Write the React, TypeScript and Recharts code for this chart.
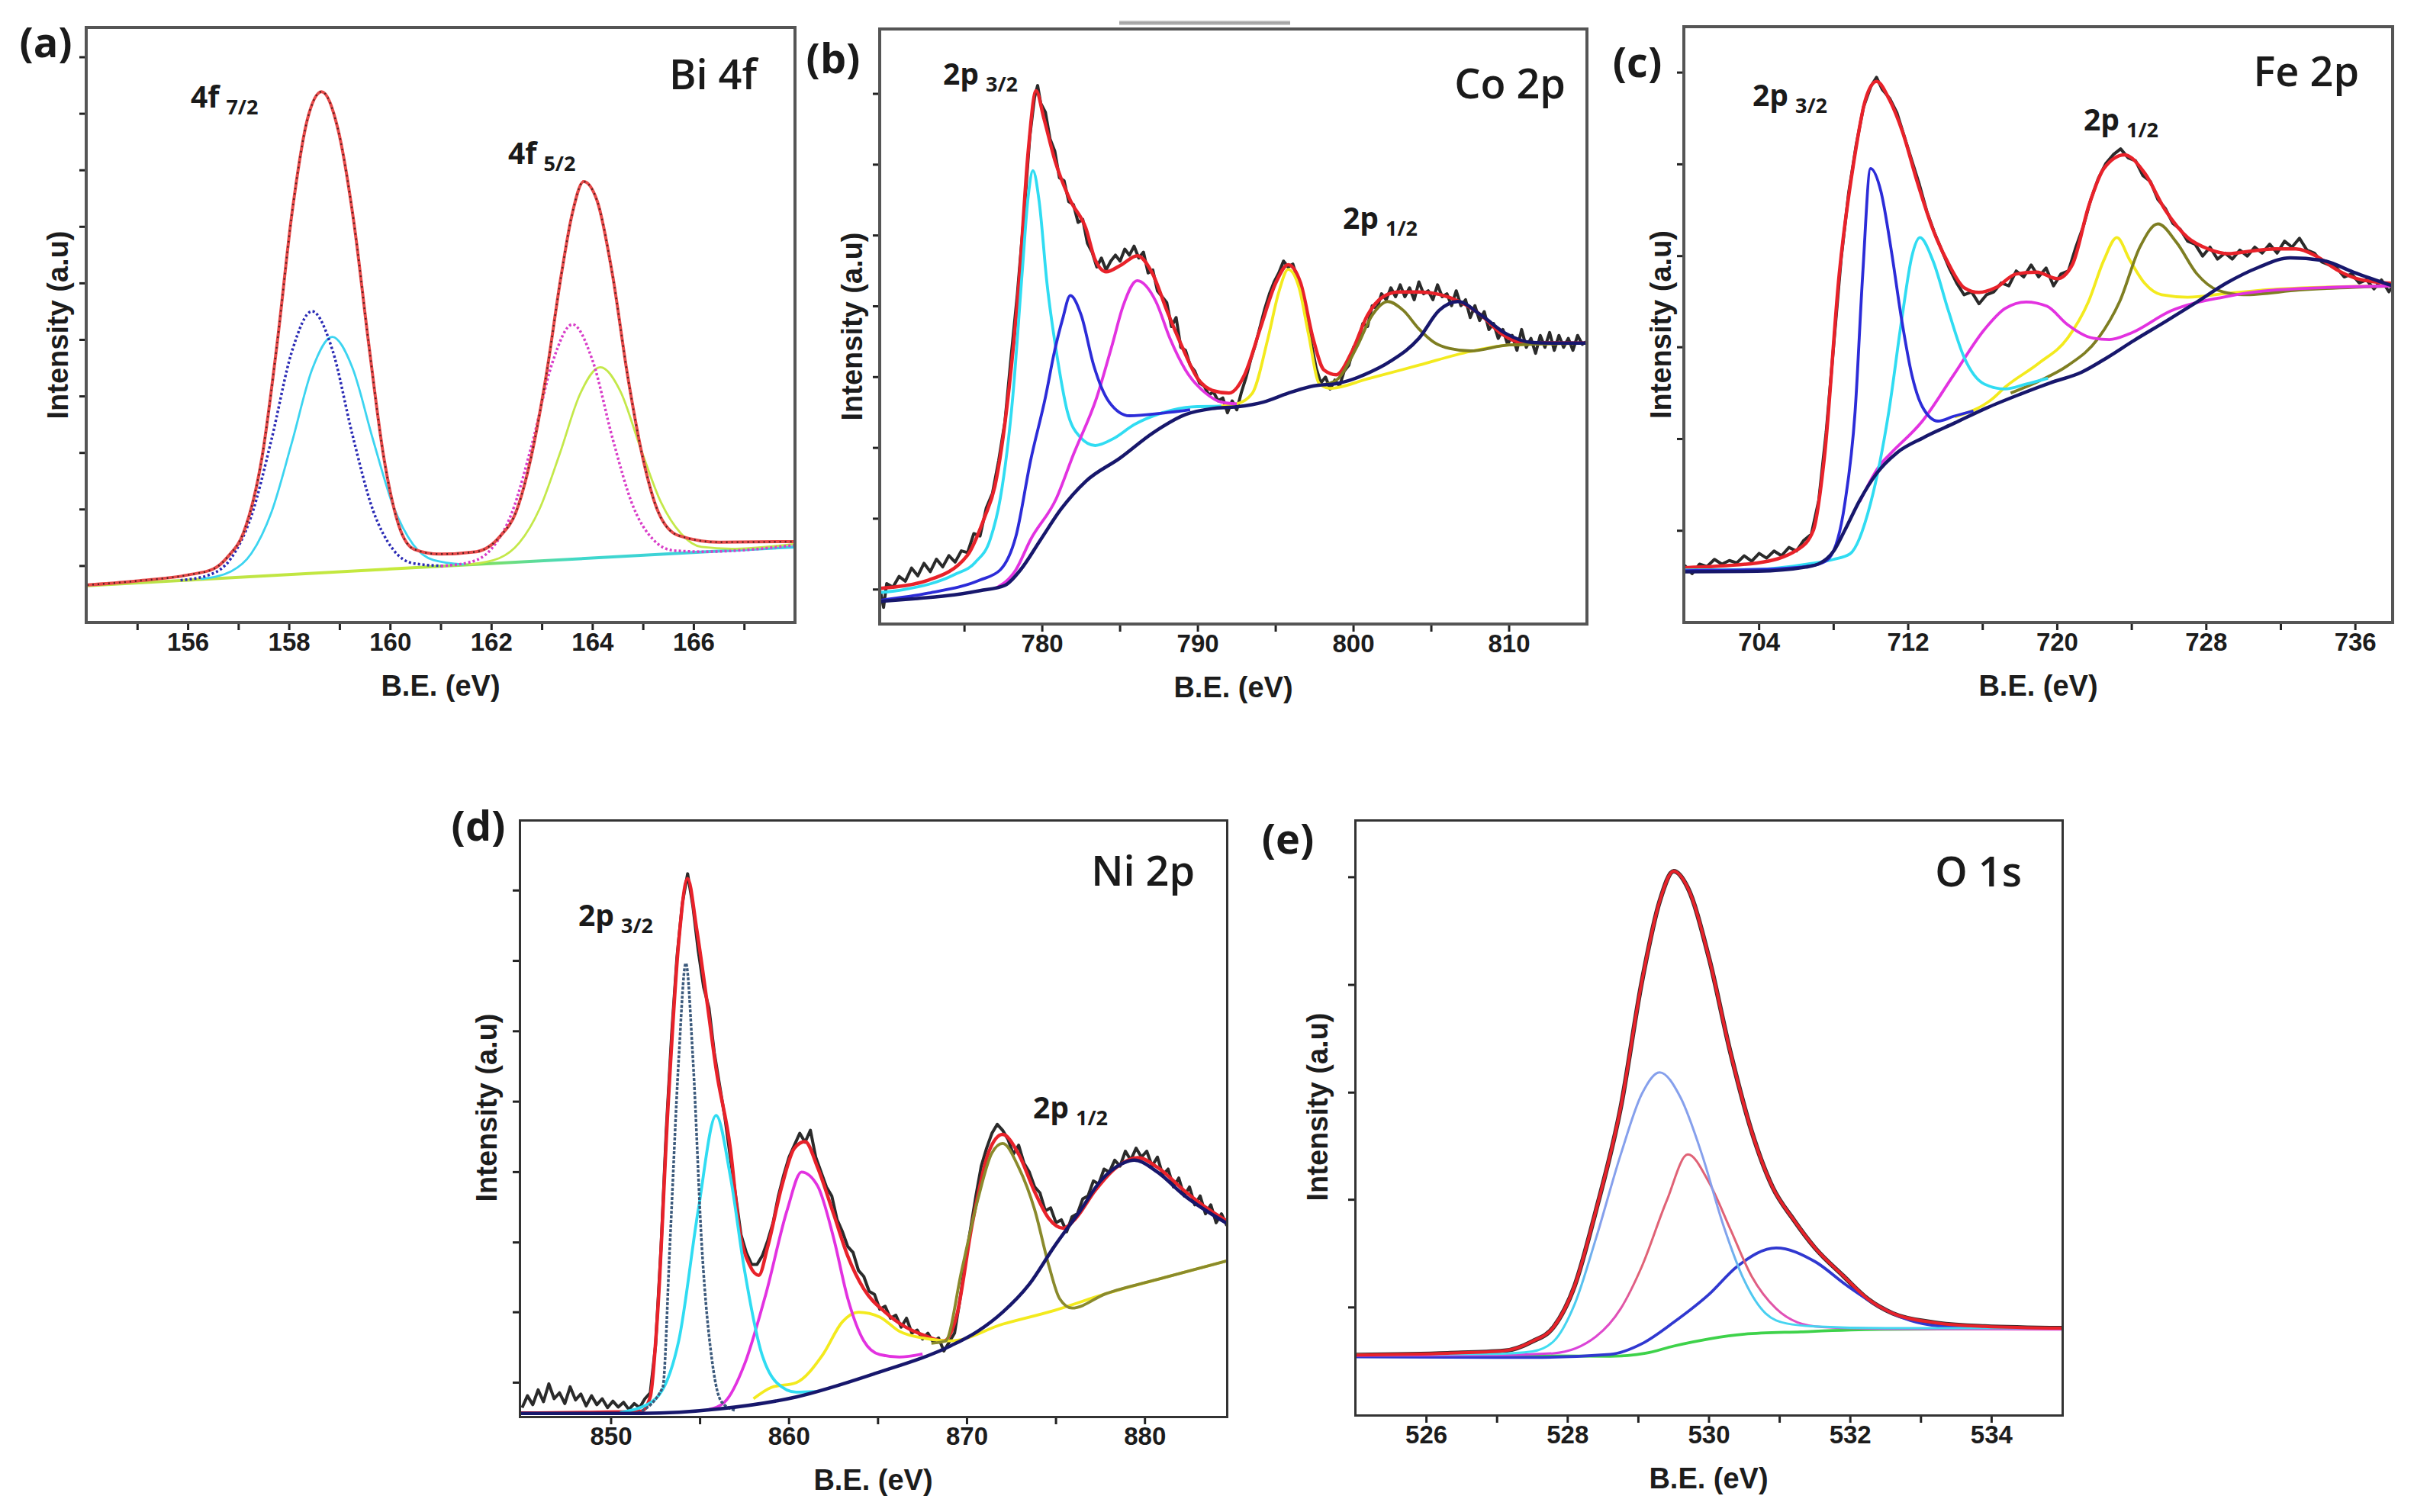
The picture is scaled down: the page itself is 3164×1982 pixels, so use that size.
import React from 'react';
import { LineChart, Line, XAxis, YAxis } from 'recharts';

type Pt = [number, number];

const FONT_AX = '"Liberation Sans", Arial, Helvetica, sans-serif';
const FONT_TXT = '"Open Sans", "Noto Sans", sans-serif';

/* Intensities are given as % of the plot height (0 = bottom edge, 100 = top edge). */

/* ---------- (a) Bi 4f ---------- */
const biTicks = [155, 156, 157, 158, 159, 160, 161, 162, 163, 164, 165, 166, 167];
const biTickLabels = [156, 158, 160, 162, 164, 166];
const biYTicks = [9.5, 19, 28.5, 38, 47.5, 57, 66.5, 76, 85.5, 95];
const biBaseline: Pt[] = [[154, 6.2], [168, 12.7]];
const biBlue: Pt[] = [[155.85, 7.1], [156.45, 8.1], [156.85, 10.8], [157.25, 17.9], [157.65, 30.8], [158.05, 45.5], [158.45, 52.3], [158.85, 45.9], [159.25, 31.5], [159.65, 19.0], [160.05, 12.3], [160.45, 9.95], [161.05, 9.5]];
const biCyan: Pt[] = [[156.25, 7.3], [156.85, 8.6], [157.25, 11.6], [157.65, 18.6], [158.05, 30.2], [158.45, 42.5], [158.85, 48.0], [159.25, 42.8], [159.65, 30.9], [160.05, 19.7], [160.45, 13.1], [160.85, 10.5], [161.45, 9.75]];
const biMagenta: Pt[] = [[161.0, 9.5], [161.6, 10.2], [162.0, 12.4], [162.4, 18.4], [162.8, 30.0], [163.2, 43.6], [163.6, 50.1], [164.0, 43.95], [164.4, 30.7], [164.8, 19.5], [165.2, 13.9], [165.6, 12.1], [166.2, 11.9], [168, 13.0]];
const biLime: Pt[] = [[161.55, 9.76], [162.15, 10.8], [162.55, 13.4], [162.95, 19.1], [163.35, 28.4], [163.75, 38.4], [164.15, 42.9], [164.55, 38.8], [164.95, 29.2], [165.35, 20.2], [165.75, 14.9], [166.15, 12.7], [166.75, 12.4], [168, 13.2]];
const biEnvelope: Pt[] = [[154, 6.3], [155, 7.0], [156, 8.0], [156.5, 9.0], [156.8, 11.2], [157.1, 15.2], [157.46, 27.7], [157.76, 46.9], [158.06, 69.2], [158.36, 84.6], [158.64, 89.2], [158.96, 83.0], [159.27, 67.7], [159.57, 46.9], [159.87, 27.7], [160.17, 16.2], [160.47, 12.3], [160.97, 11.5], [161.7, 11.9], [162.18, 14.6], [162.48, 18.5], [162.78, 27.7], [163.08, 41.5], [163.38, 58.5], [163.59, 68.5], [163.82, 74.1], [164.09, 70.8], [164.39, 58.5], [164.69, 41.5], [164.99, 27.7], [165.3, 18.5], [165.7, 14.6], [166.5, 13.5], [168, 13.6]];

/* ---------- (b) Co 2p ---------- */
const coTicks = [775, 780, 785, 790, 795, 800, 805, 810];
const coTickLabels = [780, 790, 800, 810];
const coYTicks = [5.8, 17.7, 29.6, 41.5, 53.4, 65.3, 77.2, 89.1];
const coShirley: Pt[] = [[769.6, 3.8], [772, 4.3], [774.35, 4.9], [776, 5.6], [777.6, 6.5], [778.6, 9.1], [779.9, 14.2], [781.2, 19.3], [782.8, 24.0], [785.0, 27.9], [787.1, 32.1], [789.2, 35.2], [790.9, 36.2], [792.5, 36.5], [794.2, 37.3], [795.8, 38.8], [797.4, 40.0], [799.1, 40.5], [800.7, 41.9], [802.4, 44.2], [804.2, 48.0], [805.5, 52.7], [806.7, 54.2], [808.2, 51.9], [809.8, 48.8], [811.5, 47.3], [813, 47.2], [815, 47.2]];
const coCyan: Pt[] = [[769.6, 5.3], [771.1, 5.8], [774.35, 8.3], [775.7, 10.4], [776.65, 14.2], [777.3, 21.1], [778.1, 38.1], [778.7, 58.8], [779.1, 72], [779.4, 76.2], [779.8, 71], [780.3, 57.3], [781.0, 44.2], [781.6, 35.8], [782.4, 31.5], [783.4, 30.0], [784.6, 31.2], [785.9, 33.5], [787.6, 35.4], [789.6, 36.5], [791.5, 36.6]];
const coBlue: Pt[] = [[769.6, 4.0], [772.7, 5.2], [776.0, 7.4], [777.3, 9.1], [778.3, 14.7], [779.25, 27.5], [780.2, 38.1], [780.8, 46], [781.3, 51.2], [781.8, 55.2], [782.5, 51.9], [783.3, 43.5], [784.3, 37.3], [785.6, 35.0], [787.6, 35.4], [789.5, 36.0]];
const coMagenta: Pt[] = [[777.0, 6.0], [778.3, 9.1], [779.25, 14.2], [780.9, 21.1], [782.0, 28.5], [783.5, 38.1], [784.5, 47], [785.2, 53.5], [786.1, 57.7], [787.3, 54.2], [788.2, 48], [789.2, 42.7], [790.5, 38.8], [791.5, 37.3], [792.5, 37.0]];
const coYellow: Pt[] = [[791.0, 36.5], [792.5, 37.0], [793.5, 38.8], [794.5, 48], [795.2, 55.8], [795.8, 59.6], [796.5, 56.5], [797.1, 48.8], [797.8, 40.4], [798.5, 39.6], [800.9, 41.2], [804.2, 43.5], [807.5, 45.8], [810.1, 46.9], [815, 47.2]];
const coOlive: Pt[] = [[798.0, 40.2], [798.9, 41.0], [800.2, 46.5], [801.2, 51.9], [802.2, 54.2], [803.2, 52.7], [804.2, 49.6], [805.2, 47.3], [806.2, 46.3], [807.5, 45.9], [810, 46.9], [815, 47.2]];
const coEnvelope: Pt[] = [[769.6, 6.0], [772.7, 7.4], [775.2, 11.6], [776.3, 18.0], [776.95, 23.1], [777.8, 38.1], [778.5, 57.3], [779.1, 79.6], [779.6, 89.6], [780.1, 85], [780.8, 78], [781.8, 71.2], [782.8, 66.5], [783.4, 61.2], [784.1, 59.2], [785.1, 60.4], [786.1, 61.9], [787.1, 58.8], [788.0, 52.7], [789.0, 46.5], [790.0, 41.2], [791.0, 39.2], [792.0, 38.8], [793.0, 41.9], [794.0, 49.6], [795.0, 57.3], [795.8, 60.4], [796.6, 57.3], [797.4, 48.0], [798.1, 42.7], [798.9, 41.9], [799.9, 45.8], [800.9, 51.9], [801.9, 55.0], [802.9, 55.8], [804.2, 55.8], [805.5, 55.4], [806.8, 54.2], [808.2, 51.9], [809.5, 48.8], [810.8, 47.3], [815, 47.2]];
const coData: Pt[] = [[769.6, 5.5], [769.8, 2.8], [770.0, 6.8], [770.4, 6.2], [770.8, 8.0], [771.2, 7.2], [771.6, 9.4], [772.0, 8.1], [772.4, 10.2], [772.8, 8.8], [773.2, 10.9], [773.6, 9.6], [774.0, 11.5], [774.4, 10.4], [774.8, 12.3], [775.2, 12.0], [775.6, 15.2], [776.0, 14.8], [776.4, 19.5], [776.8, 22.0], [777.2, 27.5], [777.6, 34.0], [778.0, 45.0], [778.4, 55.5], [778.8, 68.0], [779.2, 82.0], [779.5, 88.5], [779.7, 90.5], [779.9, 87.5], [780.2, 86.0], [780.5, 81.5], [780.8, 79.5], [781.1, 75.0], [781.4, 74.5], [781.7, 71.0], [782.0, 70.5], [782.3, 67.5], [782.6, 68.0], [782.9, 64.0], [783.2, 62.5], [783.5, 60.0], [783.8, 61.5], [784.1, 59.5], [784.4, 61.0], [784.7, 62.0], [785.0, 61.0], [785.3, 63.0], [785.6, 62.0], [785.9, 63.5], [786.2, 61.5], [786.5, 62.5], [786.8, 59.0], [787.1, 59.5], [787.4, 56.0], [787.7, 55.0], [788.0, 54.0], [788.3, 50.0], [788.6, 51.5], [788.9, 46.5], [789.2, 46.0], [789.5, 43.5], [789.8, 42.5], [790.1, 40.5], [790.4, 40.0], [790.7, 38.5], [791.0, 39.0], [791.3, 37.5], [791.6, 38.0], [791.9, 35.5], [792.2, 37.5], [792.5, 36.0], [792.8, 39.0], [793.1, 41.5], [793.4, 44.5], [793.7, 47.0], [794.0, 50.0], [794.3, 53.0], [794.6, 55.5], [794.9, 57.5], [795.2, 59.0], [795.5, 61.0], [795.8, 60.0], [796.1, 60.5], [796.4, 58.0], [796.7, 55.0], [797.0, 51.5], [797.3, 47.0], [797.6, 43.0], [797.9, 40.5], [798.2, 41.5], [798.5, 39.5], [798.8, 41.0], [799.1, 40.0], [799.4, 42.5], [799.7, 43.5], [800.0, 46.5], [800.3, 47.5], [800.6, 50.5], [800.9, 50.0], [801.2, 53.5], [801.5, 53.0], [801.8, 55.5], [802.1, 54.5], [802.4, 56.5], [802.7, 55.0], [803.0, 57.0], [803.3, 55.0], [803.6, 56.5], [803.9, 54.5], [804.2, 57.5], [804.5, 55.5], [804.8, 56.0], [805.1, 54.5], [805.4, 57.0], [805.7, 55.0], [806.0, 55.5], [806.3, 53.5], [806.6, 56.0], [806.9, 53.5], [807.2, 54.5], [807.5, 51.5], [807.8, 53.5], [808.1, 51.0], [808.4, 52.5], [808.7, 49.5], [809.0, 50.5], [809.3, 48.0], [809.6, 49.5], [809.9, 47.0], [810.2, 48.5], [810.5, 46.0], [810.8, 49.5], [811.1, 46.5], [811.4, 48.0], [811.7, 45.5], [812.0, 48.5], [812.3, 46.5], [812.6, 49.0], [812.9, 46.0], [813.2, 48.5], [813.5, 46.5], [813.8, 48.0], [814.1, 46.0], [814.4, 48.5], [814.7, 47.0], [815.0, 47.5]];

/* ---------- (c) Fe 2p ---------- */
const feTicks = [704, 708, 712, 716, 720, 724, 728, 732, 736];
const feTickLabels = [704, 712, 720, 728, 736];
const feYTicks = [15.4, 30.8, 46.2, 61.5, 76.9, 92.3];
const feShirley: Pt[] = [[700, 8.5], [703.9, 8.6], [706.5, 9.3], [707.3, 10.0], [708.0, 12.0], [708.6, 15.5], [709.4, 20.5], [710.3, 25.0], [711.4, 28.5], [712.8, 31.0], [714.5, 33.5], [716.2, 36.0], [718.0, 38.3], [719.6, 40.2], [721.3, 42.0], [722.7, 44.5], [724.1, 47.3], [725.8, 50.5], [727.5, 53.8], [729.1, 57.0], [730.8, 59.6], [732.5, 61.2], [734.2, 60.8], [735.9, 58.8], [738, 56.5]];
const feBlue: Pt[] = [[700, 8.7], [704, 8.9], [706.5, 9.4], [707.2, 9.8], [707.76, 10.8], [708.6, 20], [709.15, 35.4], [709.56, 58.5], [709.98, 76.2], [710.54, 72.3], [711.1, 62.3], [711.65, 50.8], [712.2, 41.5], [712.76, 36.2], [713.6, 33.8], [714.43, 34.6], [715.5, 35.5]];
const feCyan: Pt[] = [[700, 8.8], [703.9, 8.9], [706.6, 9.8], [708.0, 10.6], [708.87, 11.5], [709.98, 20], [710.96, 35.4], [711.65, 50.8], [712.2, 61.5], [712.63, 64.6], [713.32, 60.8], [714.16, 52.3], [714.99, 44.6], [716.1, 40], [717.2, 39.2], [718.3, 40], [719.5, 41.0]];
const feMagenta: Pt[] = [[709.4, 20.3], [710.5, 26.5], [711.1, 28.5], [712.76, 33.8], [714.43, 41.5], [716.1, 49.2], [717.2, 52.7], [718.33, 53.8], [719.44, 53.1], [720.55, 50], [721.95, 47.7], [722.8, 47.5], [723.9, 48.5], [726.1, 52.3], [728.9, 54.6], [731.7, 55.8], [738, 56.5]];
const feYellow: Pt[] = [[714.5, 34.5], [716.5, 37.5], [717.2, 39.5], [719.0, 43.5], [720.55, 47.7], [721.67, 53.8], [722.5, 60.8], [723.2, 64.6], [723.9, 60.8], [724.7, 56.9], [725.6, 55.0], [727.0, 54.6], [729, 55.2], [732, 56.0], [738, 56.5]];
const feOlive: Pt[] = [[717.5, 38.5], [719.0, 40.5], [720.55, 43.1], [722.2, 47.7], [723.34, 53.8], [724.45, 63.1], [725.4, 66.9], [726.4, 63.8], [727.5, 58.5], [728.6, 55.8], [730.0, 55.0], [733, 55.8], [738, 56.5]];
const feEnvelope: Pt[] = [[700, 9.2], [703.9, 10.0], [706.1, 12.3], [706.9, 15.4], [707.5, 27.7], [708.3, 58.5], [709.1, 77.7], [709.7, 87.7], [710.3, 90.8], [711.0, 87.7], [711.7, 82.3], [712.5, 73.8], [713.3, 66.2], [714.2, 60.0], [715.0, 56.2], [715.8, 55.4], [716.7, 56.2], [717.8, 58.5], [718.9, 58.8], [720.0, 57.7], [720.8, 60.0], [721.7, 70.0], [722.5, 76.2], [723.6, 78.5], [724.7, 75.4], [725.8, 69.2], [727.0, 64.6], [728.1, 62.7], [729.2, 61.9], [730.3, 62.3], [731.7, 62.7], [732.8, 62.7], [733.9, 61.5], [735.0, 59.2], [736.1, 57.7], [738.0, 56.9]];
const feData: Pt[] = [[700.0, 9.6], [700.4, 8.2], [700.8, 9.8], [701.2, 9.4], [701.6, 10.6], [702.0, 9.8], [702.4, 10.4], [702.8, 10.0], [703.2, 11.2], [703.6, 10.3], [704.0, 11.6], [704.4, 10.8], [704.8, 12.0], [705.2, 11.2], [705.6, 12.6], [706.0, 12.0], [706.4, 13.8], [706.8, 14.8], [707.2, 20.5], [707.6, 32.0], [708.0, 46.5], [708.4, 61.0], [708.8, 72.0], [709.2, 80.0], [709.6, 86.5], [710.0, 90.0], [710.3, 91.5], [710.6, 89.5], [711.0, 88.0], [711.4, 85.5], [711.8, 81.5], [712.2, 77.5], [712.6, 73.5], [713.0, 69.0], [713.4, 65.5], [713.8, 62.5], [714.2, 59.5], [714.6, 57.0], [715.0, 55.0], [715.4, 55.5], [715.8, 53.5], [716.2, 55.0], [716.6, 55.5], [717.0, 57.0], [717.4, 56.5], [717.8, 59.0], [718.2, 58.0], [718.6, 60.0], [719.0, 58.0], [719.4, 59.5], [719.8, 56.5], [720.2, 58.5], [720.6, 59.0], [721.0, 63.0], [721.4, 66.5], [721.8, 71.0], [722.2, 74.5], [722.6, 77.0], [723.0, 78.5], [723.4, 79.5], [723.8, 78.0], [724.2, 77.5], [724.6, 75.0], [725.0, 74.0], [725.4, 71.0], [725.8, 69.5], [726.2, 67.0], [726.6, 66.0], [727.0, 64.0], [727.4, 63.5], [727.8, 61.5], [728.2, 63.0], [728.6, 61.0], [729.0, 62.0], [729.4, 61.0], [729.8, 62.5], [730.2, 61.5], [730.6, 63.0], [731.0, 62.0], [731.4, 63.5], [731.8, 62.0], [732.2, 64.0], [732.6, 63.0], [733.0, 64.5], [733.4, 62.5], [733.8, 62.0], [734.2, 60.5], [734.6, 60.0], [735.0, 59.5], [735.4, 58.0], [735.8, 58.5], [736.2, 57.0], [736.6, 57.5], [737.0, 56.0], [737.4, 57.5], [737.8, 55.5], [738.0, 56.5]];

/* ---------- (d) Ni 2p ---------- */
const niTicks = [850, 855, 860, 865, 870, 875, 880];
const niTickLabels = [850, 860, 870, 880];
const niYTicks = [5.7, 17.5, 29.2, 41.0, 52.8, 64.6, 76.4, 88.2];
const niShirley: Pt[] = [[844.9, 0.55], [851.7, 0.55], [856.1, 1.3], [860.4, 3.3], [864.8, 7.2], [869.1, 11.9], [870.6, 14.3], [872.0, 17.5], [873.5, 22.2], [874.9, 28.5], [876.4, 34.7], [877.5, 39.5], [878.7, 42.4], [879.4, 43.0], [880.7, 41.0], [882.2, 37.1], [884.6, 32.4]];
const niMain: Pt[] = [[851.5, 0.6], [852.9, 4.9], [853.3, 28.5], [853.8, 59.9], [854.2, 76], [854.6, 59.9], [855.1, 28.5], [855.7, 8.8], [856.2, 2.5], [857, 1.0]];
const niCyan: Pt[] = [[850.5, 0.7], [852.3, 2.5], [853.8, 12.7], [854.9, 34.7], [855.9, 50.5], [856.7, 40.3], [857.5, 24.5], [858.4, 11.2], [859.3, 5.7], [860.4, 4.1], [861.5, 4.2]];
const niMagenta: Pt[] = [[855.5, 1.2], [856.4, 2.5], [857.5, 8.8], [858.7, 20.6], [859.9, 34.7], [860.7, 41], [861.6, 38.7], [862.5, 30], [863.3, 19.8], [864.2, 12.7], [865.1, 10.4], [866.2, 10.0], [867.5, 10.5]];
const niYellow: Pt[] = [[858.0, 3.0], [859.0, 4.9], [860.4, 5.7], [861.9, 10.4], [863.0, 15.9], [863.9, 17.5], [865.1, 16.7], [866.2, 14.3], [867.7, 13.1], [869.1, 12.7], [872.0, 15.5], [874.9, 17.8], [877.8, 20.6], [880.7, 23.0], [884.6, 26.1]];
const niOlive: Pt[] = [[868.0, 12.3], [868.8, 12.7], [869.7, 24.5], [870.6, 36.3], [871.4, 44.2], [872.0, 45.8], [872.9, 41.8], [873.8, 34.7], [874.6, 25.3], [875.2, 19.8], [875.9, 18.2], [877.8, 20.6], [880.7, 23.0], [884.6, 26.1]];
const niEnvelope: Pt[] = [[844.9, 0.6], [851.7, 0.9], [852.2, 3.3], [852.6, 16.7], [853.2, 52], [853.8, 79.6], [854.3, 90.2], [854.8, 81.9], [855.4, 69.3], [855.9, 58.3], [856.7, 45], [857.2, 31.6], [857.8, 25.3], [858.3, 23.7], [858.8, 28.5], [859.6, 38.7], [860.3, 45], [860.9, 46.1], [861.6, 41.8], [862.5, 34], [863.3, 26.9], [864.2, 21.4], [865.4, 17.5], [866.5, 15.1], [867.7, 13.5], [868.7, 12.7], [869.4, 16.7], [870.3, 32.4], [871.2, 44.2], [872.0, 47.3], [872.9, 44], [873.8, 37.7], [874.6, 33.2], [875.4, 31.6], [876.1, 33.2], [877.2, 37.9], [878.4, 41.8], [879.6, 43.4], [880.7, 41.8], [882.2, 37.9], [883.6, 34.7], [884.6, 32.8]];
const niData: Pt[] = [[845.0, 1.5], [845.3, 3.5], [845.6, 2.0], [845.9, 4.5], [846.2, 2.5], [846.5, 5.5], [846.8, 3.0], [847.1, 4.0], [847.4, 2.2], [847.7, 5.0], [848.0, 2.8], [848.3, 3.8], [848.6, 1.8], [848.9, 3.5], [849.2, 2.0], [849.5, 3.0], [849.8, 1.5], [850.1, 2.6], [850.4, 1.6], [850.7, 2.4], [851.0, 1.2], [851.3, 2.2], [851.6, 1.5], [851.9, 3.0], [852.2, 4.0], [852.5, 12.0], [852.8, 28.0], [853.1, 48.0], [853.4, 64.0], [853.7, 77.0], [854.0, 86.0], [854.3, 91.0], [854.6, 85.5], [854.9, 78.0], [855.2, 72.0], [855.5, 68.5], [855.8, 61.0], [856.1, 55.5], [856.4, 50.0], [856.7, 43.5], [857.0, 37.0], [857.3, 30.5], [857.6, 27.5], [857.9, 25.5], [858.2, 25.5], [858.5, 27.0], [858.8, 29.5], [859.1, 32.5], [859.4, 37.0], [859.7, 40.5], [860.0, 43.5], [860.3, 45.5], [860.6, 47.5], [860.9, 46.0], [861.2, 48.0], [861.5, 43.5], [861.8, 41.0], [862.1, 38.5], [862.4, 37.0], [862.7, 33.0], [863.0, 31.0], [863.3, 28.5], [863.6, 27.5], [863.9, 24.5], [864.2, 23.5], [864.5, 21.0], [864.8, 20.5], [865.1, 18.0], [865.4, 18.5], [865.7, 16.5], [866.0, 17.0], [866.3, 15.0], [866.6, 16.5], [866.9, 14.0], [867.2, 14.5], [867.5, 13.0], [867.8, 14.0], [868.1, 12.5], [868.4, 13.2], [868.7, 11.0], [869.0, 12.5], [869.3, 14.0], [869.6, 19.5], [869.9, 26.0], [870.2, 31.5], [870.5, 37.0], [870.8, 42.0], [871.1, 45.0], [871.4, 47.5], [871.7, 49.0], [872.0, 48.0], [872.3, 46.5], [872.6, 44.0], [872.9, 45.5], [873.2, 42.5], [873.5, 41.0], [873.8, 38.5], [874.1, 37.5], [874.4, 34.5], [874.7, 35.0], [875.0, 32.5], [875.3, 33.0], [875.6, 31.0], [875.9, 33.5], [876.2, 34.0], [876.5, 36.5], [876.8, 37.0], [877.1, 39.5], [877.4, 39.0], [877.7, 41.5], [878.0, 41.0], [878.3, 43.0], [878.6, 42.0], [878.9, 44.5], [879.2, 43.0], [879.5, 45.0], [879.8, 43.5], [880.1, 44.5], [880.4, 42.0], [880.7, 43.5], [881.0, 40.5], [881.3, 41.5], [881.6, 38.5], [881.9, 40.0], [882.2, 37.0], [882.5, 38.5], [882.8, 35.5], [883.1, 37.0], [883.4, 34.0], [883.7, 35.5], [884.0, 32.5], [884.3, 34.0], [884.6, 32.0]];

/* ---------- (e) O 1s ---------- */
const oTicks = [526, 527, 528, 529, 530, 531, 532, 533, 534];
const oTickLabels = [526, 528, 530, 532, 534];
const oYTicks = [18.1, 36.2, 54.2, 72.3, 90.4];
const oShirley: Pt[] = [[525, 10.1], [528.6, 9.9], [529.1, 10.4], [529.5, 11.6], [530.0, 12.8], [530.5, 13.6], [531.3, 14.0], [532.4, 14.4], [535, 14.6]];
const oLattice: Pt[] = [[525, 10.1], [527.0, 10.3], [527.5, 10.7], [527.8, 12.4], [528.1, 18.7], [528.4, 29.7], [528.75, 43.8], [529.05, 54], [529.3, 57.6], [529.6, 53.3], [529.9, 43.8], [530.2, 32], [530.5, 22.6], [530.8, 17.1], [531.1, 15.4], [531.5, 14.9], [532.5, 14.6], [535, 14.6]];
const oPink: Pt[] = [[525, 10.0], [527.0, 10.1], [527.8, 10.4], [528.4, 13.2], [528.75, 17.9], [529.05, 25], [529.4, 36], [529.7, 43.8], [530.0, 39.1], [530.3, 31.3], [530.6, 23.4], [530.95, 17.9], [531.25, 15.6], [531.6, 14.8], [532.5, 14.5], [535, 14.4]];
const oBlue: Pt[] = [[525, 9.8], [527.5, 9.7], [528.6, 10.2], [529.05, 12], [529.5, 15.6], [530.0, 20.3], [530.4, 25], [530.95, 28.1], [531.5, 25.8], [531.95, 21.8], [532.4, 18.3], [532.85, 15.9], [533.3, 14.9], [533.9, 14.6], [535, 14.5]];
const oEnvelope: Pt[] = [[525, 10.1], [526.3, 10.4], [527.1, 10.8], [527.5, 12.4], [527.8, 14.8], [528.1, 21.8], [528.4, 34.4], [528.75, 51.7], [529.05, 72.9], [529.3, 86.3], [529.5, 91.4], [529.7, 88.6], [530.0, 76.8], [530.3, 61.1], [530.6, 47.8], [530.9, 38.3], [531.2, 32.8], [531.5, 28.1], [531.9, 23.4], [532.25, 19.5], [532.6, 17.1], [533.15, 15.6], [533.9, 14.9], [535, 14.6]];

/* ---------- drawing ---------- */
type Series = { pts: Pt[]; color: string; width: number; dash?: string; curve?: 'monotone' | 'linear' };
type Box = { l: number; t: number; w: number; h: number };
type PanelCfg = {
  key: string;
  box: Box;
  domain: [number, number];
  xTicks: number[];
  xLabels: number[];
  yTicks: number[];
  frame: number;
  frameColor: string;
  series: Series[];
  defs?: React.ReactNode;
};

const toRows = (pts: Pt[]) => pts.map(([x, y]) => ({ x, y }));

const RED = '#e8222a';
const DATA = '#2a2a2a';
const NAVY = '#17176c';
const BLUE = '#2c2cd8';
const CYAN = '#30dcf2';
const MAGENTA = '#e232e0';
const YELLOW = '#f3ea1e';
const OLIVE = '#7e7e22';

const panels: PanelCfg[] = [
  {
    key: 'a', box: { l: 113, t: 36, w: 929, h: 780 }, domain: [154, 168],
    xTicks: biTicks, xLabels: biTickLabels, yTicks: biYTicks, frame: 4, frameColor: '#555',
    defs: (
      <linearGradient id="biBase" x1="0" y1="0" x2="1" y2="0">
        <stop offset="0" stopColor="#b8e04c" />
        <stop offset="0.45" stopColor="#c6ea3c" />
        <stop offset="0.56" stopColor="#7ee062" />
        <stop offset="0.7" stopColor="#3ed8cc" />
        <stop offset="1" stopColor="#3cc8ea" />
      </linearGradient>
    ),
    series: [
      { pts: biBaseline, color: 'url(#biBase)', width: 4, curve: 'linear' },
      { pts: biCyan, color: '#3cd4f0', width: 2.8 },
      { pts: biLime, color: '#c4e84a', width: 2.8 },
      { pts: biBlue, color: '#2a2ab4', width: 3.5, dash: '3 3' },
      { pts: biMagenta, color: '#d83cc8', width: 3.5, dash: '3 3' },
      { pts: biEnvelope, color: '#e84a4a', width: 4 },
      { pts: biEnvelope, color: '#5a2222', width: 2.4, dash: '2 5' },
    ],
  },
  {
    key: 'b', box: { l: 1153, t: 38, w: 927, h: 780 }, domain: [769.6, 815],
    xTicks: coTicks, xLabels: coTickLabels, yTicks: coYTicks, frame: 4, frameColor: '#555',
    series: [
      { pts: coData, color: DATA, width: 4, curve: 'linear' },
      { pts: coEnvelope, color: RED, width: 4.5 },
      { pts: coYellow, color: YELLOW, width: 3.8 },
      { pts: coOlive, color: OLIVE, width: 3.8 },
      { pts: coCyan, color: CYAN, width: 3.8 },
      { pts: coMagenta, color: MAGENTA, width: 3.8 },
      { pts: coBlue, color: BLUE, width: 3.8 },
      { pts: coShirley, color: NAVY, width: 4.5 },
    ],
  },
  {
    key: 'c', box: { l: 2207, t: 35, w: 929, h: 781 }, domain: [700, 738],
    xTicks: feTicks, xLabels: feTickLabels, yTicks: feYTicks, frame: 4, frameColor: '#555',
    series: [
      { pts: feData, color: DATA, width: 4, curve: 'linear' },
      { pts: feEnvelope, color: RED, width: 4.5 },
      { pts: feYellow, color: YELLOW, width: 3.8 },
      { pts: feOlive, color: OLIVE, width: 3.8 },
      { pts: feMagenta, color: MAGENTA, width: 3.8 },
      { pts: feCyan, color: CYAN, width: 3.8 },
      { pts: feBlue, color: BLUE, width: 3.8 },
      { pts: feShirley, color: NAVY, width: 4.5 },
    ],
  },
  {
    key: 'd', box: { l: 681, t: 1075, w: 927, h: 782 }, domain: [844.9, 884.6],
    xTicks: niTicks, xLabels: niTickLabels, yTicks: niYTicks, frame: 3, frameColor: '#333',
    series: [
      { pts: niData, color: DATA, width: 4, curve: 'linear' },
      { pts: niEnvelope, color: RED, width: 4.5 },
      { pts: niYellow, color: YELLOW, width: 3.8 },
      { pts: niOlive, color: '#8a8a2c', width: 3.8 },
      { pts: niMagenta, color: MAGENTA, width: 3.8 },
      { pts: niCyan, color: CYAN, width: 3.8 },
      { pts: niMain, color: '#3c5a7c', width: 3.5, dash: '4 2' },
      { pts: niShirley, color: NAVY, width: 4.5 },
    ],
  },
  {
    key: 'e', box: { l: 1776, t: 1075, w: 927, h: 780 }, domain: [525, 535],
    xTicks: oTicks, xLabels: oTickLabels, yTicks: oYTicks, frame: 3, frameColor: '#333',
    defs: (
      <>
        <linearGradient id="oLattice" x1="0" y1="0" x2="0" y2="1">
          <stop offset="0" stopColor="#86a0ec" />
          <stop offset="0.55" stopColor="#86a0ec" />
          <stop offset="0.8" stopColor="#4ccaf0" />
          <stop offset="1" stopColor="#3ee0f0" />
        </linearGradient>
        <linearGradient id="oPink" x1="0" y1="0" x2="0" y2="1">
          <stop offset="0" stopColor="#e06276" />
          <stop offset="0.6" stopColor="#e06276" />
          <stop offset="0.85" stopColor="#e04cc8" />
          <stop offset="1" stopColor="#d840e0" />
        </linearGradient>
      </>
    ),
    series: [
      { pts: oEnvelope, color: '#3a2a2a', width: 6 },
      { pts: oShirley, color: '#3ed24a', width: 3.8 },
      { pts: oBlue, color: '#3038d0', width: 3.8 },
      { pts: oPink, color: 'url(#oPink)', width: 3 },
      { pts: oLattice, color: 'url(#oLattice)', width: 3 },
      { pts: oEnvelope, color: RED, width: 4 },
    ],
  },
];

const PAD_L = 24;
const PAD_R = 12;
const PAD_T = 12;
const AX_H = 70;
const TICK_LINE = { stroke: '#222', strokeWidth: 3 };

function Panel({ cfg }: { cfg: PanelCfg }) {
  const { l, t, w, h } = cfg.box;
  const f = cfg.frame;
  return (
    <>
      <div style={{ position: 'absolute', left: l - PAD_L, top: t - PAD_T }}>
        <LineChart
          width={w + PAD_L + PAD_R}
          height={h + PAD_T + AX_H}
          margin={{ top: PAD_T, right: PAD_R, bottom: 0, left: PAD_L }}
        >
          {cfg.defs ? <defs>{cfg.defs}</defs> : null}
          <XAxis
            dataKey="x"
            type="number"
            domain={cfg.domain}
            ticks={cfg.xTicks}
            interval={0}
            allowDataOverflow
            height={AX_H}
            axisLine={false}
            tickLine={TICK_LINE}
            tickSize={10}
            tickMargin={4}
            tickFormatter={(v: number) => (cfg.xLabels.includes(v) ? String(v) : '')}
            tick={{ fontSize: 33, fontWeight: 700, fill: '#1c1c1c', fontFamily: FONT_AX }}
          />
          <YAxis
            type="number"
            domain={[0, 100]}
            ticks={cfg.yTicks}
            interval={0}
            allowDataOverflow
            width={1}
            axisLine={false}
            tickLine={TICK_LINE}
            tickSize={10}
            tickFormatter={() => ''}
            tick={{ fontSize: 1 }}
          />
          {cfg.series.map((s, i) => (
            <Line
              key={`${cfg.key}-${i}`}
              data={toRows(s.pts)}
              dataKey="y"
              type={s.curve ?? 'monotone'}
              stroke={s.color}
              strokeWidth={s.width}
              strokeDasharray={s.dash}
              strokeLinejoin="round"
              dot={false}
              activeDot={false}
              isAnimationActive={false}
            />
          ))}
        </LineChart>
      </div>
      <div
        style={{
          position: 'absolute',
          left: l - f / 2,
          top: t - f / 2,
          width: w + f,
          height: h + f,
          border: `${f}px solid ${cfg.frameColor}`,
          boxSizing: 'border-box',
          pointerEvents: 'none',
        }}
      />
    </>
  );
}

const panelLetters = [
  { text: '(a)', x: 60, y: 54 },
  { text: '(b)', x: 1092, y: 75 },
  { text: '(c)', x: 2146, y: 80 },
  { text: '(d)', x: 627, y: 1081 },
  { text: '(e)', x: 1688, y: 1098 },
];
const panelTitles = [
  { text: 'Bi 4f', x: 992, y: 117 },
  { text: 'Co 2p', x: 2052, y: 129 },
  { text: 'Fe 2p', x: 3092, y: 113 },
  { text: 'Ni 2p', x: 1566, y: 1161 },
  { text: 'O 1s', x: 2650, y: 1162 },
];
const peakLabels = [
  { main: '4f', sub: '7/2', x: 250, y: 141 },
  { main: '4f', sub: '5/2', x: 666, y: 215 },
  { main: '2p', sub: '3/2', x: 1236, y: 111 },
  { main: '2p', sub: '1/2', x: 1760, y: 300 },
  { main: '2p', sub: '3/2', x: 2297, y: 139 },
  { main: '2p', sub: '1/2', x: 2731, y: 171 },
  { main: '2p', sub: '3/2', x: 758, y: 1214 },
  { main: '2p', sub: '1/2', x: 1354, y: 1466 },
];
const yTitleOffset = [37, 36, 30, 43, 49];
const yTitleShift = [0, 0, 0, -14, -14];

export default function App() {
  return (
    <div style={{ position: 'absolute', left: 0, top: 0, width: 3164, height: 1982, background: '#fff', overflow: 'hidden' }}>
      {panels.map((p) => (
        <Panel key={p.key} cfg={p} />
      ))}
      <div
        style={{
          position: 'absolute',
          left: 1467,
          top: 27,
          width: 224,
          height: 6,
          background: 'linear-gradient(#d4d4d4, #9a9a9a 50%, #d4d4d4)',
        }}
      />
      <svg width={3164} height={1982} style={{ position: 'absolute', left: 0, top: 0, pointerEvents: 'none' }}>
        {panelLetters.map((d) => (
          <text key={d.text} x={d.x} y={d.y} textAnchor="middle" dominantBaseline="central"
            fontFamily={FONT_TXT} fontWeight={700} fontSize={54} fill="#1a1a1a">{d.text}</text>
        ))}
        {panelTitles.map((d) => (
          <text key={d.text} x={d.x} y={d.y} textAnchor="end"
            fontFamily={FONT_TXT} fontWeight={600} fontSize={54} fill="#1a1a1a">{d.text}</text>
        ))}
        {peakLabels.map((d, i) => (
          <text key={i} x={d.x} y={d.y} fontFamily={FONT_TXT} fontWeight={700} fontSize={39} fill="#1a1a1a">
            <tspan>{d.main}</tspan>
            <tspan dx={9} dy={9} fontSize={27}>{d.sub}</tspan>
          </text>
        ))}
        {panels.map((p, i) => {
          const { l, t, w, h } = p.box;
          const cx = l + w / 2;
          const by = t + h + 83;
          const yx = l - yTitleOffset[i];
          const yy = t + h / 2 + yTitleShift[i];
          return (
            <g key={p.key}>
              <text x={cx} y={by} textAnchor="middle" dominantBaseline="central"
                fontFamily={FONT_AX} fontWeight={700} fontSize={38} fill="#1c1c1c">B.E. (eV)</text>
              <text x={yx} y={yy} textAnchor="middle" dominantBaseline="central"
                transform={`rotate(-90, ${yx}, ${yy})`}
                fontFamily={FONT_AX} fontWeight={700} fontSize={38} fill="#1c1c1c">Intensity (a.u)</text>
            </g>
          );
        })}
      </svg>
    </div>
  );
}
